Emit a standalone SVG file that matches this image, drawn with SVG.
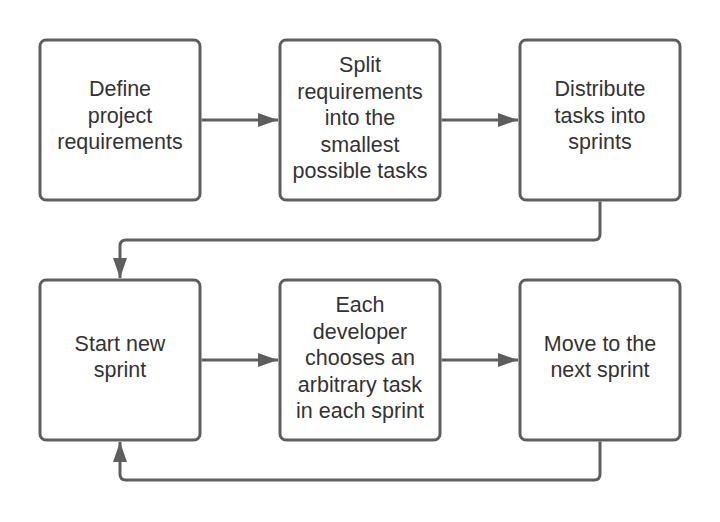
<svg xmlns="http://www.w3.org/2000/svg" width="720" height="522" viewBox="0 0 720 522">
<defs>
<style>
.box{fill:#ffffff;stroke:#5e5e5e;stroke-width:3}
.t{font-family:"Liberation Sans",Arial,sans-serif;font-size:21.5px;fill:#333333;text-anchor:middle}
.c{fill:none;stroke:#5e5e5e;stroke-width:3;stroke-linejoin:round}
</style>
<marker id="ah" viewBox="0 0 20 14" refX="20" refY="7" markerWidth="20" markerHeight="14" markerUnits="userSpaceOnUse" orient="auto">
<path d="M0,0 L20,7 L0,14 Z" fill="#5e5e5e"/>
</marker>
</defs>
<rect width="720" height="522" fill="#ffffff"/>
<g id="connectors">
<path class="c" d="M201.5,120 H278" marker-end="url(#ah)"/>
<path class="c" d="M441.5,120 H518" marker-end="url(#ah)"/>
<path class="c" d="M600,201.5 V234 Q600,240 594,240 H126 Q120,240 120,246 V278" marker-end="url(#ah)"/>
<path class="c" d="M201.5,360 H278" marker-end="url(#ah)"/>
<path class="c" d="M441.5,360 H518" marker-end="url(#ah)"/>
<path class="c" d="M600,441.5 V474 Q600,480 594,480 H126 Q120,480 120,474 V442" marker-end="url(#ah)"/>
</g>
<g id="n1">
<rect class="box" x="40" y="40" width="160" height="160" rx="6"/>
<text class="t"><tspan x="120" y="96">Define</tspan><tspan x="120" y="122.5">project</tspan><tspan x="120" y="149">requirements</tspan></text>
</g>
<g id="n2">
<rect class="box" x="280" y="40" width="160" height="160" rx="6"/>
<text class="t"><tspan x="360" y="72.3">Split</tspan><tspan x="360" y="98.8">requirements</tspan><tspan x="360" y="125.3">into the</tspan><tspan x="360" y="151.8">smallest</tspan><tspan x="360" y="178.3">possible tasks</tspan></text>
</g>
<g id="n3">
<rect class="box" x="520" y="40" width="160" height="160" rx="6"/>
<text class="t"><tspan x="600" y="96">Distribute</tspan><tspan x="600" y="122.5">tasks into</tspan><tspan x="600" y="149">sprints</tspan></text>
</g>
<g id="n4">
<rect class="box" x="40" y="280" width="160" height="160" rx="6"/>
<text class="t"><tspan x="120" y="350.5">Start new</tspan><tspan x="120" y="377">sprint</tspan></text>
</g>
<g id="n5">
<rect class="box" x="280" y="280" width="160" height="160" rx="6"/>
<text class="t"><tspan x="360" y="312.3">Each</tspan><tspan x="360" y="338.8">developer</tspan><tspan x="360" y="365.3">chooses an</tspan><tspan x="360" y="391.8">arbitrary task</tspan><tspan x="360" y="418.3">in each sprint</tspan></text>
</g>
<g id="n6">
<rect class="box" x="520" y="280" width="160" height="160" rx="6"/>
<text class="t"><tspan x="600" y="350.5">Move to the</tspan><tspan x="600" y="377">next sprint</tspan></text>
</g>
</svg>
